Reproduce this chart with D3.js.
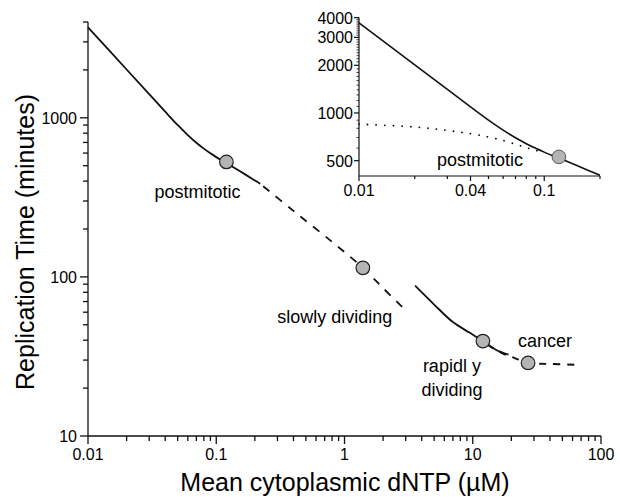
<!DOCTYPE html>
<html><head><meta charset="utf-8">
<script src="https://cdn.jsdelivr.net/npm/d3@7"></script>
<style>
html,body{margin:0;padding:0;background:#fff;}
svg{display:block;font-family:"Liberation Sans",Arial,Helvetica,sans-serif;}
</style></head>
<body>
<svg id="c" width="620" height="497"></svg>
<script>
// ---------- data ----------
const xMajorTicks = [0.01, 0.1, 1, 10, 100];
const xTickLabels = ["0.01", "0.1", "1", "10", "100"];
const yMajorTicks = [10, 100, 1000];
const yTickLabels = ["10", "100", "1000"];

const cellTypes = ["postmitotic", "slowly dividing", "rapidl y|dividing", "cancer"];
const pointX = [0.12, 1.39, 12, 27];
const pointY = [528, 114, 39.5, 28.8];

// postmitotic model curve (solid)
const solidAX = [0.01, 0.02, 0.03, 0.04, 0.05, 0.06, 0.07, 0.08, 0.09, 0.1, 0.12, 0.15, 0.2, 0.22];
const solidAY = [3700, 2011, 1407, 1092, 901, 779, 697, 640, 598, 566, 519, 466, 404, 385];
// dashed extrapolation through slowly dividing
const dashBX = [0.22, 0.4, 0.8, 1.39, 2.0, 2.97];
const dashBY = [385, 260, 166, 114, 85, 62];
// solid through rapidly dividing
const solidCX = [3.55, 5, 7, 9.5, 12, 15, 19];
const solidCY = [88, 67, 52, 44.5, 39.5, 35, 32.5];
// dashed through cancer
const dashDX = [13, 17, 21, 27, 40, 66];
const dashDY = [37.5, 33, 31, 28.8, 28.4, 28];

// inset
const insetXTicks = [0.01, 0.04, 0.1];
const insetXLabels = ["0.01", "0.04", "0.1"];
const insetYTicks = [500, 1000, 2000, 3000, 4000];
const insetYLabels = ["500", "1000", "2000", "3000", "4000"];
const dottedX = [0.01, 0.02, 0.03, 0.04, 0.05, 0.06, 0.07, 0.08, 0.09, 0.1];
const dottedY = [850, 815, 775, 740, 705, 670, 635, 605, 580, 566];

// ---------- drawing ----------
const svg = d3.select("#c");
const font = 16;

const x = d3.scaleLog().domain([0.01, 100]).range([88, 601]);
const y = d3.scaleLog().domain([10, 4000]).range([436, 22]);

function minorTicks(lo, hi) {
  const out = [];
  for (let p = Math.floor(Math.log10(lo)); p <= Math.ceil(Math.log10(hi)); p++) {
    for (let m = 1; m <= 9; m++) {
      const v = m * Math.pow(10, p);
      if (v >= lo * 0.9999 && v <= hi * 1.0001) out.push(v);
    }
  }
  return out;
}

const zip = (a, b) => a.map((v, i) => [v, b[i]]);

// main axes
const gA = svg.append("g").attr("stroke", "#111").attr("stroke-width", 1.3);
gA.append("line").attr("x1", x(0.01)).attr("x2", x(0.01)).attr("y1", y(4000)).attr("y2", y(10));
gA.append("line").attr("x1", x(0.01)).attr("x2", x(100)).attr("y1", y(10)).attr("y2", y(10));
minorTicks(0.01, 100).forEach(v => {
  const major = xMajorTicks.includes(+v.toPrecision(6));
  gA.append("line").attr("x1", x(v)).attr("x2", x(v)).attr("y1", y(10)).attr("y2", y(10) + (major ? 8 : 5));
});
minorTicks(10, 4000).forEach(v => {
  const major = yMajorTicks.includes(+v.toPrecision(6));
  gA.append("line").attr("y1", y(v)).attr("y2", y(v)).attr("x1", x(0.01)).attr("x2", x(0.01) - (major ? 8 : 5));
});
xMajorTicks.forEach((v, i) => {
  svg.append("text").attr("x", x(v)).attr("y", y(10) + 24).attr("text-anchor", "middle")
    .attr("font-size", font).text(xTickLabels[i]);
});
yMajorTicks.forEach((v, i) => {
  svg.append("text").attr("x", x(0.01) - 11).attr("y", y(v) + 6).attr("text-anchor", "end")
    .attr("font-size", font).text(yTickLabels[i]);
});
svg.append("text").attr("x", 345).attr("y", 491).attr("text-anchor", "middle").attr("font-size", 25)
  .text("Mean cytoplasmic dNTP (\u00B5M)");
svg.append("text").attr("transform", "translate(34,242) rotate(-90)").attr("text-anchor", "middle")
  .attr("font-size", 25).text("Replication Time (minutes)");

const line = d3.line().x(d => x(d[0])).y(d => y(d[1])).curve(d3.curveCatmullRom.alpha(0.5));
const curves = svg.append("g").attr("fill", "none").attr("stroke", "#111").attr("stroke-width", 1.8);
curves.append("path").attr("d", line(zip(solidAX, solidAY)));
curves.append("path").attr("d", line(zip(dashBX, dashBY))).attr("stroke-dasharray", "8,8").attr("stroke-dashoffset", -4);
curves.append("path").attr("d", line(zip(solidCX, solidCY)));
curves.append("path").attr("d", line(zip(dashDX, dashDY))).attr("stroke-dasharray", "7,7");

// points
pointX.forEach((v, i) => {
  svg.append("circle").attr("cx", x(v)).attr("cy", y(pointY[i])).attr("r", 6.8)
    .attr("fill", "#b4b4b4").attr("stroke", "#222").attr("stroke-width", 1.2);
});
// labels (offset from points)
const labelOffsets = [[-29, 36], [-28, 55], [-31, 31], [17, -16]];
cellTypes.forEach((t, i) => {
  const px = x(pointX[i]) + labelOffsets[i][0], py = y(pointY[i]) + labelOffsets[i][1];
  t.split("|").forEach((s, j) => {
    svg.append("text").attr("x", px).attr("y", py + j * 24).attr("text-anchor", "middle")
      .attr("font-size", 18).text(s);
  });
});

// ---------- inset ----------
const xi = d3.scaleLog().domain([0.01, 0.2]).range([359, 600]);
const yi = d3.scaleLog().domain([400, 4000]).range([176, 17.6]);
const gI = svg.append("g").attr("stroke", "#111").attr("stroke-width", 1.2);
gI.append("line").attr("x1", xi(0.01)).attr("x2", xi(0.01)).attr("y1", yi(4000)).attr("y2", yi(400));
gI.append("line").attr("x1", xi(0.01)).attr("x2", xi(0.2)).attr("y1", yi(400)).attr("y2", yi(400));
minorTicks(0.01, 0.2).forEach(v => {
  const major = insetXTicks.includes(+v.toPrecision(6));
  gI.append("line").attr("x1", xi(v)).attr("x2", xi(v)).attr("y1", yi(400)).attr("y2", yi(400) + (major ? 5 : 3));
});
d3.range(500, 4001, 100).forEach(v => {
  const major = insetYTicks.includes(v);
  gI.append("line").attr("y1", yi(v)).attr("y2", yi(v)).attr("x1", xi(0.01)).attr("x2", xi(0.01) - (major ? 5 : 2.5))
    .attr("stroke-width", major ? 1.2 : 0.8);
});
insetXTicks.forEach((v, i) => {
  svg.append("text").attr("x", xi(v)).attr("y", yi(400) + 20).attr("text-anchor", "middle")
    .attr("font-size", font).text(insetXLabels[i]);
});
insetYTicks.forEach((v, i) => {
  svg.append("text").attr("x", xi(0.01) - 6).attr("y", yi(v) + 6).attr("text-anchor", "end")
    .attr("font-size", font).text(insetYLabels[i]);
});
const linei = d3.line().x(d => xi(d[0])).y(d => yi(d[1])).curve(d3.curveCatmullRom.alpha(0.5));
svg.append("path").attr("d", linei(zip(dottedX, dottedY))).attr("fill", "none").attr("stroke", "#111")
  .attr("stroke-width", 1.8).attr("stroke-dasharray", "0.1,8.5").attr("stroke-linecap", "round");
svg.append("path").attr("d", linei(zip(solidAX.slice(0, 13), solidAY.slice(0, 13)))).attr("fill", "none")
  .attr("stroke", "#111").attr("stroke-width", 1.6);
svg.append("circle").attr("cx", xi(pointX[0])).attr("cy", yi(pointY[0])).attr("r", 6.8)
  .attr("fill", "#b4b4b4").attr("stroke", "#555").attr("stroke-width", 1);
svg.append("text").attr("x", xi(pointX[0]) - 79).attr("y", yi(pointY[0]) + 9).attr("text-anchor", "middle")
  .attr("font-size", 18).text(cellTypes[0]);
</script>
</body></html>
